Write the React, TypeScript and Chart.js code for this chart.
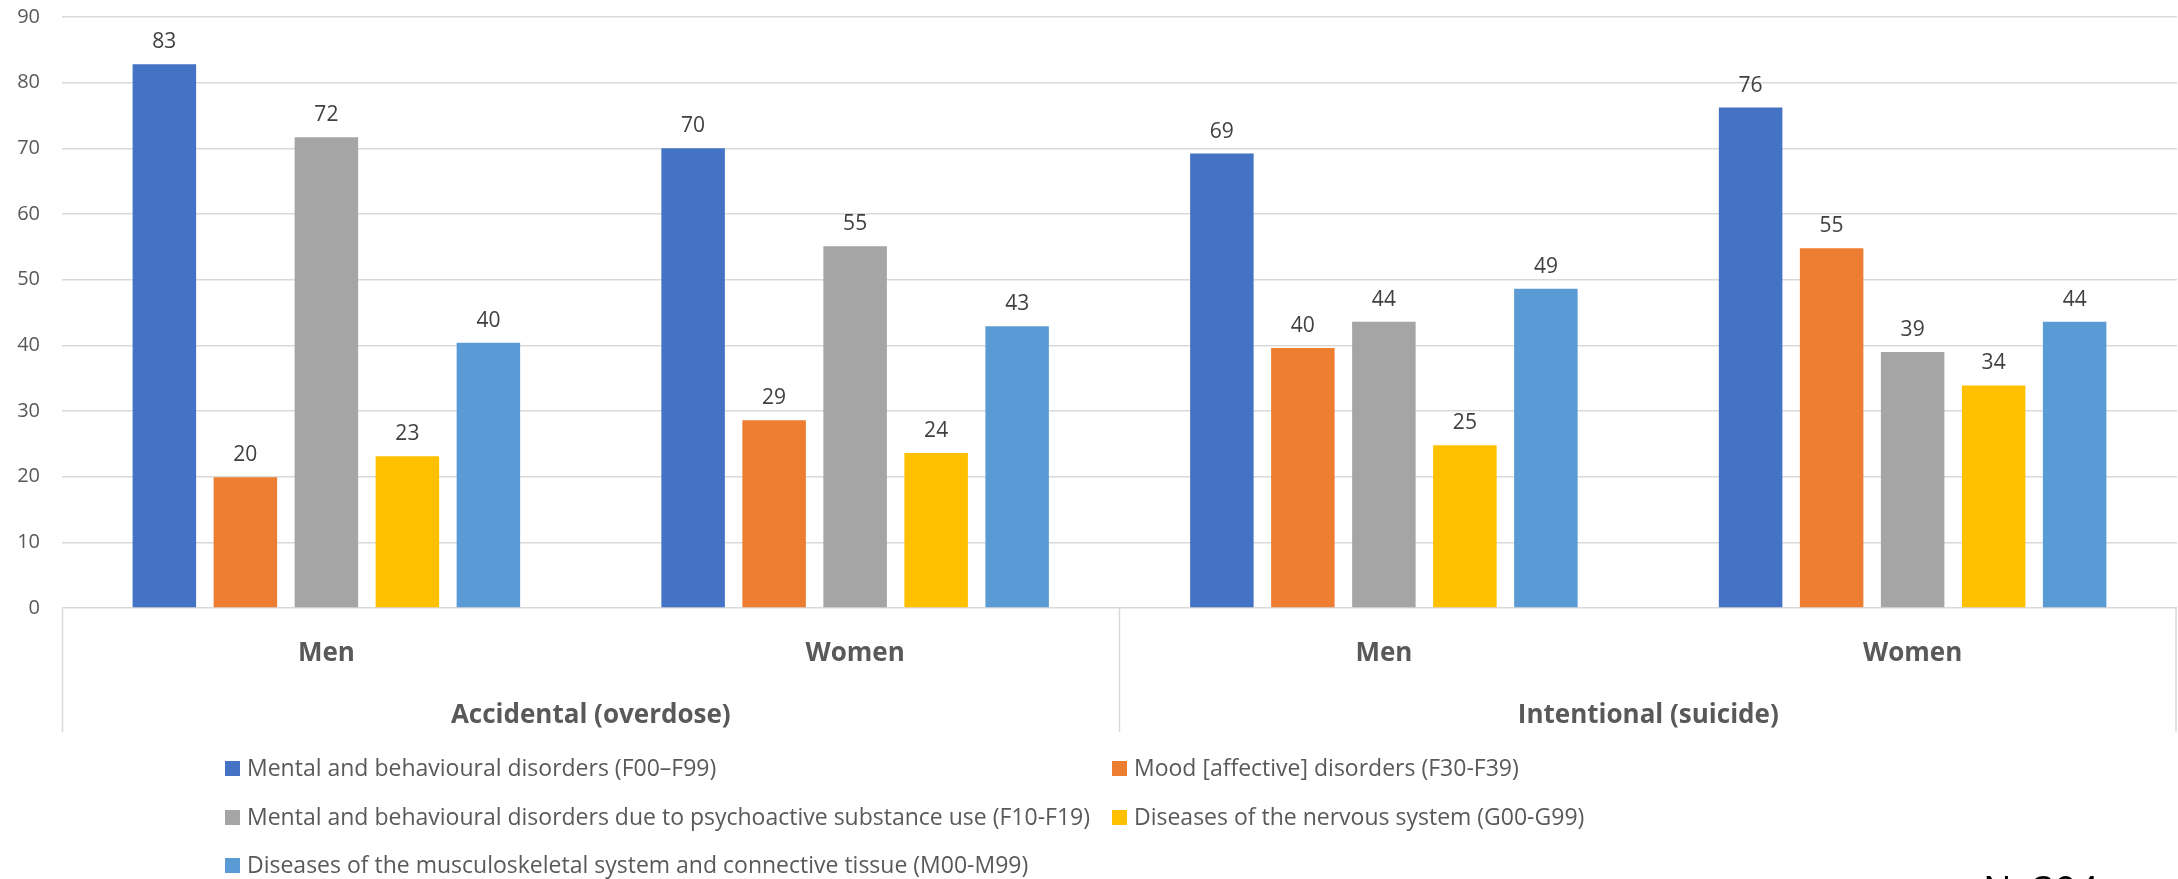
import React, { useEffect, useRef } from "react";
import { Chart, registerables } from "chart.js";

Chart.register(...registerables);

// ---- data ----
const categories = ["Men", "Women", "Men", "Women"];
const groupLabels = ["Accidental (overdose)", "Intentional (suicide)"];
const seriesNames = [
  "Mental and behavioural disorders (F00–F99)",
  "Mood [affective] disorders (F30-F39)",
  "Mental and behavioural disorders due to psychoactive substance use (F10-F19)",
  "Diseases of the nervous system (G00-G99)",
  "Diseases of the musculoskeletal system and connective tissue (M00-M99)",
];
const mentalAll = [82.8, 70.0, 69.2, 76.2];
const mood = [19.9, 28.6, 39.6, 54.8];
const substance = [71.7, 55.1, 43.6, 39.0];
const nervous = [23.1, 23.6, 24.8, 33.9];
const musculo = [40.4, 42.9, 48.6, 43.6];
const seriesValues = [mentalAll, mood, substance, nervous, musculo];
const seriesColors = ["#4472C4", "#ED7D31", "#A5A5A5", "#FFC000", "#5B9BD5"];
const yMin = 0;
const yMax = 90;
const yStep = 10;
const noteText = "N=394";

const FONT = "'Open Sans', sans-serif";
const GRID = "#d9d9d9";
const TEXT = "#595959";

const extrasPlugin = {
  id: "extras",
  afterDatasetsDraw(chart: any) {
    const ctx = chart.ctx;
    ctx.save();
    ctx.font = `21px ${FONT}`;
    ctx.fillStyle = "#404040";
    ctx.textAlign = "center";
    ctx.textBaseline = "middle";
    chart.data.datasets.forEach((ds: any, di: number) => {
      const meta = chart.getDatasetMeta(di);
      meta.data.forEach((el: any, i: number) => {
        const v = ds.data[i];
        ctx.fillText(String(Math.round(v)), el.x, el.y - 22);
      });
    });
    ctx.restore();
  },
  afterDraw(chart: any) {
    const ctx = chart.ctx;
    const xs = chart.scales.x;
    const ys = chart.scales.y;
    const top = ys.getPixelForValue(0);
    const bottom = top + 124;
    const mid = (xs.getPixelForValue(1) + xs.getPixelForValue(2)) / 2;
    ctx.save();
    ctx.strokeStyle = GRID;
    ctx.lineWidth = 1.5;
    [xs.left + 0.5, mid, xs.right - 1].forEach((px) => {
      ctx.beginPath();
      ctx.moveTo(px, top);
      ctx.lineTo(px, bottom);
      ctx.stroke();
    });

    // legend in two columns, like the source
    const colX = [225, 1112];
    const rowY = [768, 817, 865];
    ctx.font = `23px ${FONT}`;
    ctx.textAlign = "left";
    ctx.textBaseline = "middle";
    seriesNames.forEach((name, i) => {
      const col = i % 2;
      const row = Math.floor(i / 2);
      const sx = colX[col];
      const sy = rowY[row];
      ctx.fillStyle = seriesColors[i];
      ctx.fillRect(sx, sy - 7, 15, 15);
      ctx.fillStyle = TEXT;
      ctx.fillText(name, sx + 22, sy + 1);
    });

    // sample-size note (cut off at the bottom edge)
    ctx.font = `38px ${FONT}`;
    ctx.fillStyle = "#000000";
    ctx.textAlign = "left";
    ctx.textBaseline = "alphabetic";
    ctx.fillText(noteText, 1983, 904);
    ctx.restore();
  },
};

export default function App() {
  const ref = useRef<HTMLCanvasElement | null>(null);

  useEffect(() => {
    if (!ref.current) return;
    const chart = new Chart(ref.current, {
      type: "bar",
      data: {
        labels: categories,
        datasets: seriesValues.map((vals, i) => ({
          label: seriesNames[i],
          data: vals,
          backgroundColor: seriesColors[i],
          borderWidth: 0,
          categoryPercentage: 0.766,
          barPercentage: 0.784,
        })),
      },
      options: {
        animation: false,
        responsive: false,
        layout: { padding: { top: 17, left: 0, right: 1, bottom: 133 } },
        plugins: {
          legend: { display: false },
          tooltip: { enabled: false },
        },
        scales: {
          x: {
            type: "category",
            grid: { display: false },
            border: { display: false },
            ticks: {
              font: { family: FONT, size: 26, weight: "bold" },
              color: TEXT,
              padding: 22,
              maxRotation: 0,
              autoSkip: false,
            },
            afterFit: (s: any) => {
              s.height = 58;
              s.paddingLeft = 0;
              s.paddingRight = 0;
            },
          },
          x2: {
            type: "category",
            labels: groupLabels,
            position: "bottom",
            offset: true,
            grid: { display: false },
            border: { display: false },
            ticks: {
              font: { family: FONT, size: 26, weight: "bold" },
              color: TEXT,
              padding: 26,
              maxRotation: 0,
              autoSkip: false,
            },
            afterFit: (s: any) => {
              s.height = 80;
              s.paddingLeft = 0;
              s.paddingRight = 0;
            },
          },
          y: {
            min: yMin,
            max: yMax,
            ticks: {
              stepSize: yStep,
              font: { family: FONT, size: 20 },
              color: TEXT,
              padding: 22,
            },
            grid: { color: GRID, lineWidth: 1.5, drawTicks: false },
            border: { display: false },
            afterFit: (s: any) => {
              s.width = 62;
              s.paddingTop = 0;
              s.paddingBottom = 0;
            },
          },
        },
      } as any,
      plugins: [extrasPlugin],
    });
    return () => chart.destroy();
  }, []);

  return (
    <div style={{ position: "fixed", left: 0, top: 0, width: 2178, height: 879, background: "#ffffff" }}>
      <canvas ref={ref} width={2178} height={879} />
    </div>
  );
}
